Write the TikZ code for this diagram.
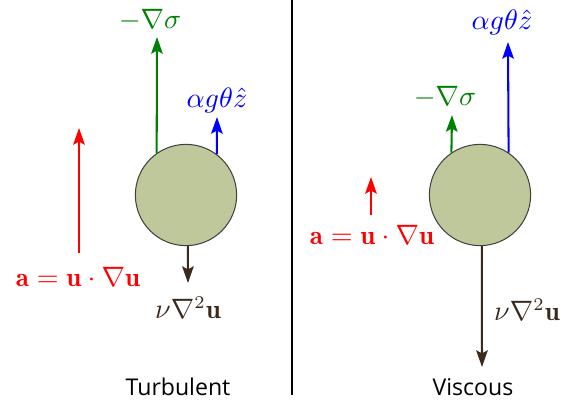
\documentclass[tikz,border=0pt]{standalone}
\usepackage{amsmath,amssymb}
\usepackage{fontspec}
\setsansfont{Open Sans}
\usepackage{tikz}
\usetikzlibrary{arrows.meta,positioning}
\definecolor{forcegreen}{RGB}{0,128,0}
\definecolor{forcebrown}{RGB}{58,42,30}
\definecolor{parcel}{RGB}{191,200,154}

\begin{document}
\begin{tikzpicture}[x=0.39pt,y=0.39pt,
		force/.style={line width=0.8pt,-{Stealth[length=6.5pt,width=4.5pt,inset=1.2pt]}},
		ball/.style={circle,draw=black!75,fill=parcel,line width=0.4pt,minimum size=39.5pt,inner sep=0pt},
		lab/.style={font=\fontsize{10.5}{12}\selectfont},
		regime/.style={font=\sffamily\fontsize{9}{11}\selectfont}]
			\useasboundingbox (0,0) rectangle (576,405);
			
			% divider
			\coordinate (divtop) at (292,405);
			\coordinate (divbot) at (292,10);
			\draw (divtop) -- (divbot);
			
			% turbulent
			\node[ball] (lball) at (186,210) {};
			\coordinate (lsigma) at (157,368);
			\coordinate (lbuoy) at (217,288);
			\coordinate (laccbase) at (79,152);
			\coordinate (lacc) at (79,277);
			\coordinate (lvisc) at (188,122);
			
			\draw[force,forcegreen] (lball.125) -- (lsigma);
			\draw[force,blue] (lball.53) -- (lbuoy);
			\draw[force,red] (laccbase) -- (lacc);
			\draw[force,forcebrown] (lball.272) -- (lvisc);
			
			\node[lab,text=forcegreen] (lsigmalab) at (150,385) {$-\nabla\sigma$};
			\node[lab,text=blue] (lbuoylab) at (217,305) {$\alpha g\theta\hat{z}$};
			\node[lab,text=red] (lacclab) at (78,128) {$\mathbf{a}=\mathbf{u}\cdot\nabla\mathbf{u}$};
			\node[lab,text=forcebrown] (lvisclab) at (188,97) {$\nu\nabla^2\mathbf{u}$};
			\node[regime] (turb) at (178,18) {Turbulent};
			
			% viscous
			\node[ball] (rball) at (480,210) {};
			\coordinate (rsigma) at (452,290);
			\coordinate (rbuoy) at (508,363);
			\coordinate (raccbase) at (371,190);
			\coordinate (racc) at (371,228);
			\coordinate (rvisc) at (482,38);
			
			\draw[force,forcegreen] (rball.124) -- (rsigma);
			\draw[force,blue] (rball.56) -- (rbuoy);
			\draw[force,red] (raccbase) -- (racc);
			\draw[force,forcebrown] (rball.272) -- (rvisc);
			
			\node[lab,text=forcegreen] (rsigmalab) at (445,308) {$-\nabla\sigma$};
			\node[lab,text=blue] (rbuoylab) at (502,383) {$\alpha g\theta\hat{z}$};
			\node[lab,text=red] (racclab) at (372,170) {$\mathbf{a}=\mathbf{u}\cdot\nabla\mathbf{u}$};
			\node[lab,text=forcebrown] (rvisclab) at (527,95) {$\nu\nabla^2\mathbf{u}$};
			\node[regime] (visc) at (473,18) {Viscous};
		\end{tikzpicture}
\end{document}
